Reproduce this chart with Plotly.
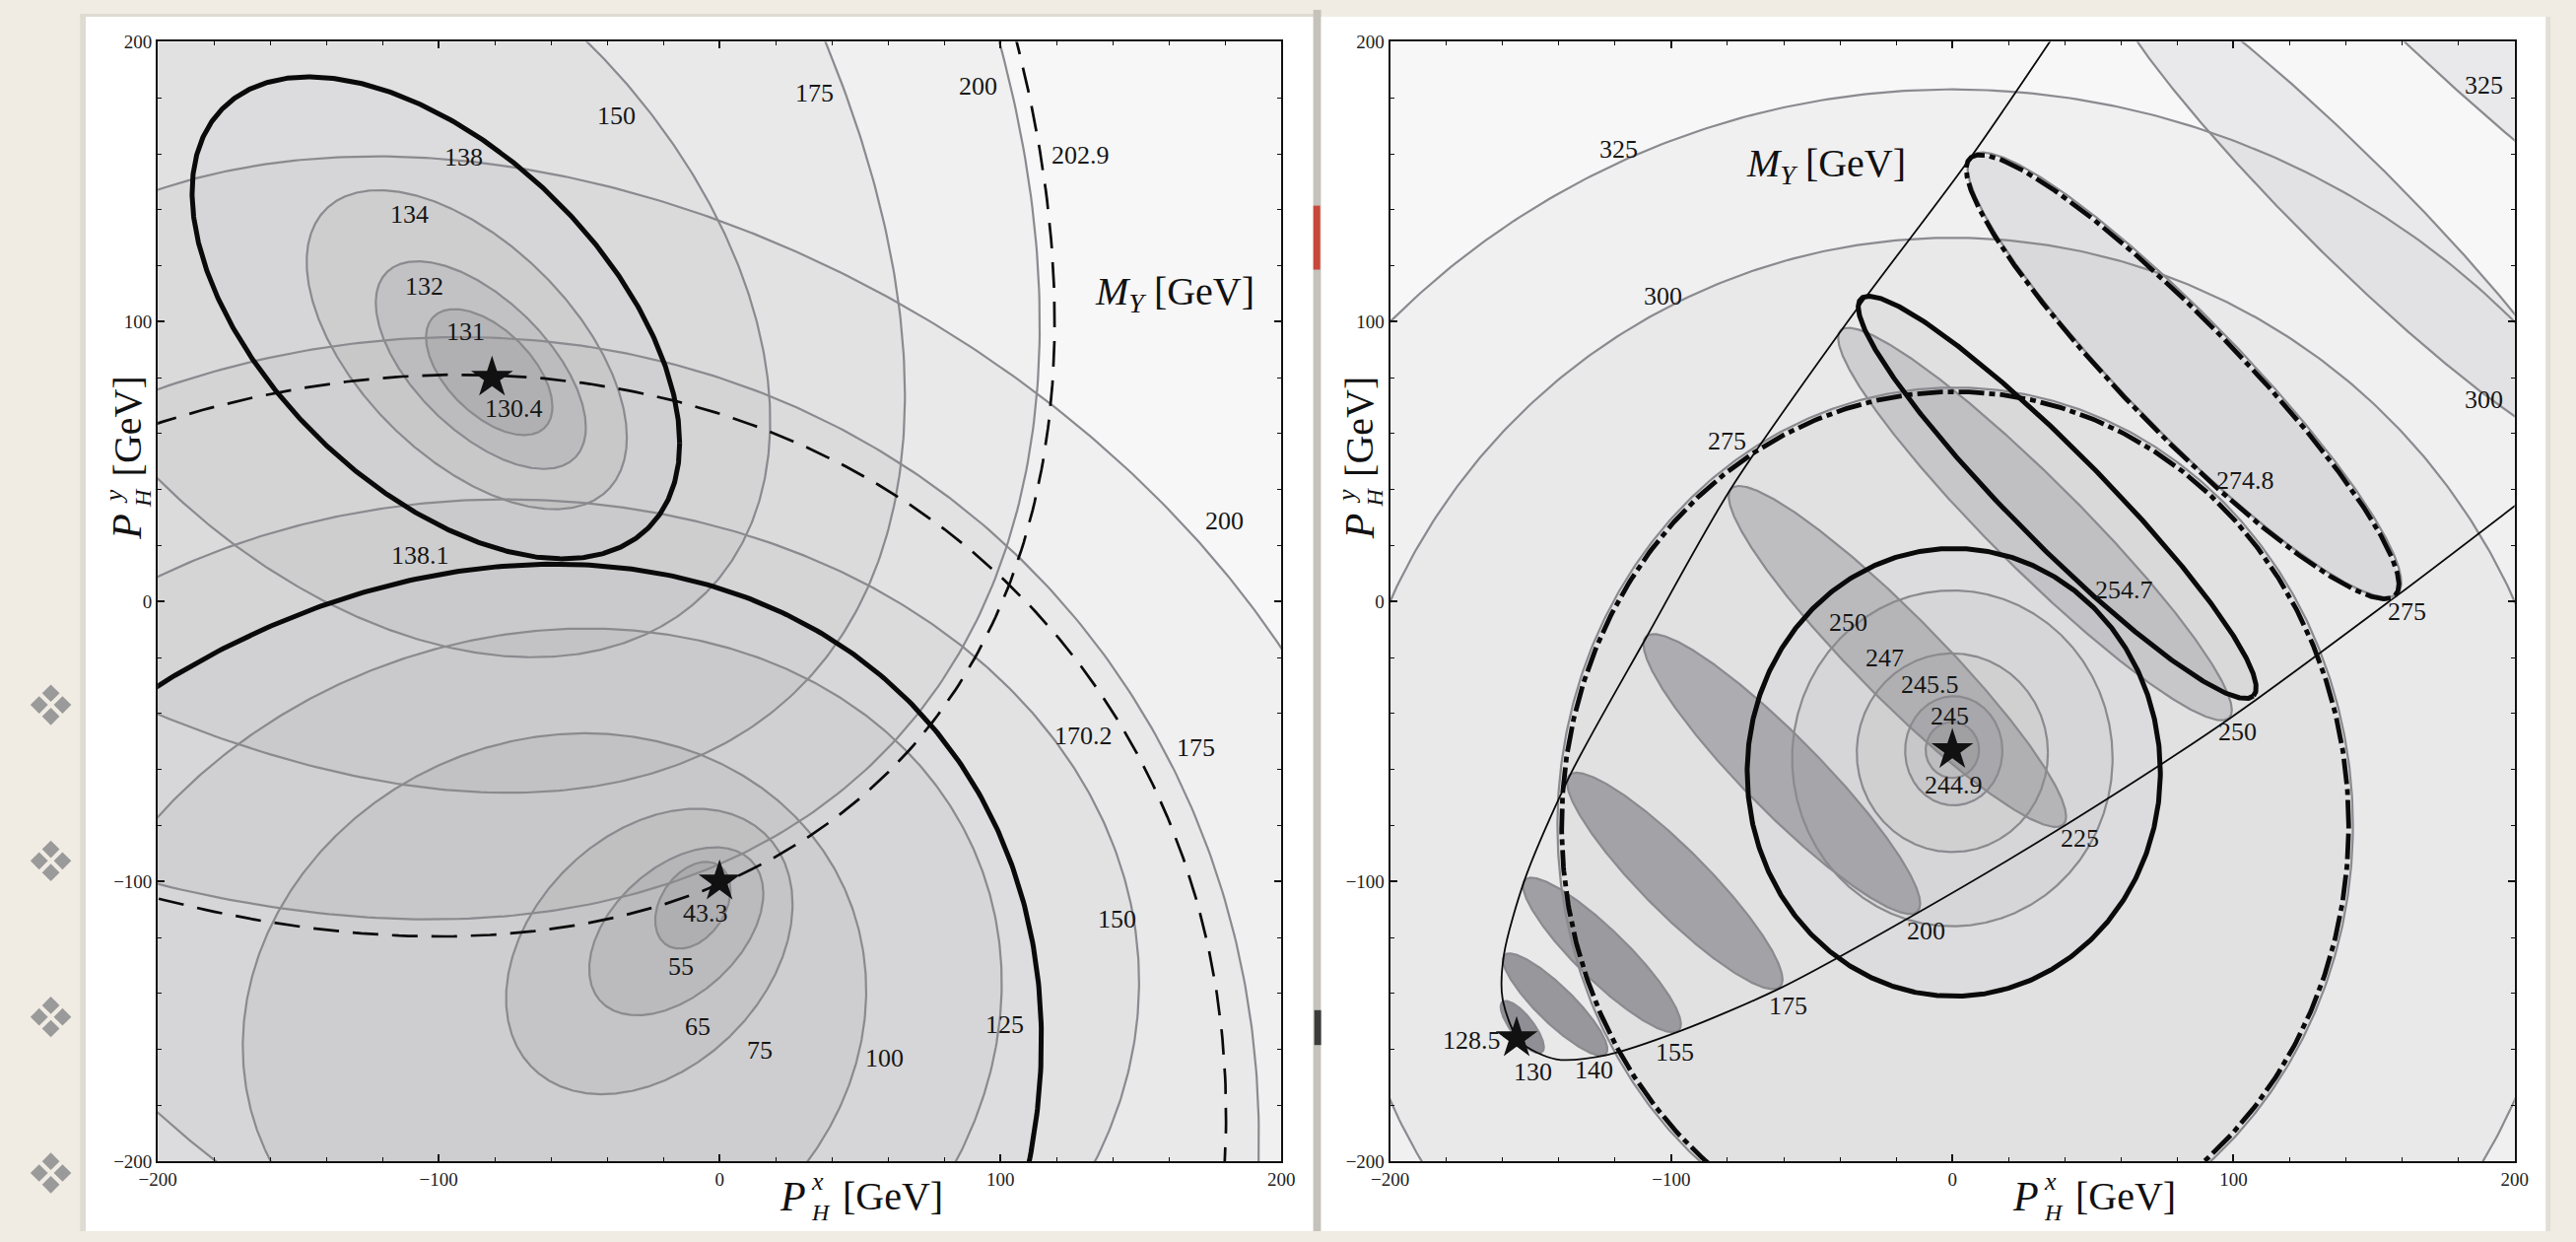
import numpy as np
import plotly.graph_objects as go

W, H = 2614, 1260
SERIF = "Liberation Serif, Times New Roman, serif"

# ---------------- left panel: M_Y contours of two solutions ----------------
# upper solution, closed inner contours: centre, half-width, half-height, correlation
UP_LEVELS = ["131", "132", "134", "138"]
UP_CX = [-82, -85, -90, -101]
UP_CY = [82, 84.5, 90, 101.4]
UP_HX = [22.5, 37.4, 57, 86.8]
UP_HY = [22.5, 37.1, 57, 86.1]
UP_RHO = [-0.55, -0.6, -0.55, -0.52]

# upper solution, outer contours sampled along their arcs
UP_ARCS = {
    "150": [(-46, 200), (-1, 133), (17, 86), (18, 60), (11, 23), (-12, -3), (-75, -17), (-145, 0), (-200, 45)],
    "175": [(38, 200), (62, 110), (67, 73), (62, 35), (50, -3), (10, -45), (-75, -68), (-150, -58), (-200, -40)],
    "200": [(100, 200), (112, 98), (114, 73), (110, 47), (100, 15), (94, -3), (-1, -94), (-101, -113.5), (-200, -101)],
    "202.9": [(106, 200), (118, 124), (119, 86), (114, 41), (104, 11), (100, -3), (62, -60), (0, -100), (-101, -120), (-196, -107)],
}

# lower solution, closed inner contours
LOW_LEVELS = ["55", "65", "75"]
LOW_CX = [-9.5, -15.4, -25]
LOW_CY = [-108.5, -117.8, -125]
LOW_HX = [13.4, 31, 51]
LOW_HY = [15.5, 30, 51]
LOW_RHO = [0.35, 0.45, 0.33]

# lower solution, outer contours sampled along their arcs
LOW_ARCS = {
    "100": [(-60, -47), (2, -63), (47, -102), (53, -145), (29, -201), (-162, -201), (-160, -130), (-131, -74)],
    "125": [(-200, -77), (-120, -22), (-50, -12), (32, -24.5), (70.5, -60), (94, -102), (101.6, -144.6), (84, -200)],
    "138.1": [(-200, -30), (-145.6, -3.3), (-49.5, 14), (17, -3), (76, -43), (106, -102), (110.4, -200)],
    "150": [(-200.7, 8.8), (-111, 34.5), (0, 27), (37.5, 15), (54, 0), (106, -32), (133, -60), (141, -113), (135.6, -200)],
    "170.2": [(-200, 64), (-81, 80), (0, 68), (63, 37), (102, 9), (113, -3), (140, -45), (165, -88), (180, -200)],
    "175": [(-200, 78), (-111, 89.5), (0, 82), (63, 54), (102, 22), (116, 0), (155, -50), (185, -120), (192, -200)],
    "200": [(-290, 60), (-240, 140), (-200.4, 149.2), (-142.6, 154.2), (-42, 137.9), (0, 135.7), (63, 111),
            (114, 78), (165.6, 35.7), (186, 0), (204, -20), (225, -120), (230, -220)],
}

LEFT_MIN_X = [-81, 0]
LEFT_MIN_Y = [80, -100]
LEFT_MIN_VAL = ["130.4", "43.3"]

# ---------------- right panel ----------------
# near-circular family around the central star
RC_LEVELS = ["245", "245.5", "247", "250", "254.7", "274.8", "275", "300", "325"]
RC_CX = [0, 0.5, 0, 0, 0.5, 1, 1, 0, 0]
RC_CY = [-53, -53.3, -54, -56, -61, -80, -80, -89, -99.5]
RC_HX = [9.5, 17.3, 34, 57, 73.5, 140, 141.5, 219, 282.5]
RC_HY = [10, 19.5, 35.5, 60, 80, 155, 156.5, 219, 282.5]

# narrow family: upper-left tip, lower-right tip, half-width
RD_LEVELS = ["130", "140", "155", "175", "200", "225", "250", "254.7", "274.8", "275", "300", "325"]
RD_TIP1 = [(-160, -143), (-159.3, -126.3), (-152, -99.4), (-136.2, -62), (-108.9, -12.5), (-78.6, 40.4),
           (-39.7, 96.9), (-32.5, 108.2), (6.3, 158.4), (6.8, 159.2), (54.2, 227.8), (93.9, 285.4)]
RD_TIP2 = [(-146, -161), (-123.3, -161.6), (-97.3, -153.1), (-61.3, -137.6), (-12.4, -110.7), (39.5, -79.6),
           (98.5, -41.5), (107.1, -33.7), (157.5, 2.2), (158.3, 2.8), (226.3, 55.7), (292, 107)]
RD_HW = [4, 6.5, 9, 11.5, 13.5, 15, 16, 16.5, 20, 20.3, 18, 19]

# kinematic boundary enclosing the narrow family
ENVELOPE = [(40, 208), (6, 158), (-38, 99), (-79, 40), (-109, -13), (-136, -62), (-152, -99), (-159.5, -126),
            (-160, -142), (-154, -157), (-141, -163.5), (-123, -162), (-97, -153.5), (-61, -138), (-12, -111),
            (40, -80), (99, -41.5), (158, 2), (205, 38)]

RIGHT_MIN_X = [0, -155]
RIGHT_MIN_Y = [-53, -156]
RIGHT_MIN_VAL = ["244.9", "128.5"]

# ---------------- label placement (data coordinates) ----------------
LEFT_LABEL_POS = [
    ("up", "150", -36.7, 173.5), ("up", "138", -91.2, 158.7), ("up", "134", -110.4, 138.2),
    ("up", "132", -105.3, 112.6), ("up", "131", -90.5, 96.6), ("up", "175", 33.7, 181.8),
    ("up", "200", 92.2, 184.3), ("up", "202.9", 128.5, 159.4),
    ("low", "138.1", -106.5, 16.5), ("low", "200", 179.7, 28.7), ("low", "170.2", 129.7, -47.8),
    ("low", "175", 169.6, -52.1), ("low", "150", 141.5, -113.6), ("low", "125", 101.6, -151),
    ("low", "100", 58.6, -163), ("low", "75", 14.2, -160.2), ("low", "65", -7.9, -151.7),
    ("low", "55", -13.9, -130.5),
]
LEFT_MIN_LABEL_POS = [(-73.2, 69.1), (-5, -111.4)]
RIGHT_LABEL_POS = [
    ("c", "325", -118.9, 161.7), ("c", "300", -103.1, 109.2), ("c", "275", -80, 57.4),
    ("c", "274.8", 104.3, 43.2), ("c", "254.7", 61.1, 4.3), ("c", "250", -36.9, -7.5),
    ("c", "247", -23.9, -20.3), ("c", "245.5", -8.1, -29.5), ("c", "245", -0.9, -40.8),
    ("d", "325", 189.2, 184.5), ("d", "300", 189.2, 72.2), ("d", "275", 161.9, -3.5),
    ("d", "250", 101.4, -46.4), ("d", "225", 45.2, -84.6), ("d", "200", -9.5, -117.8),
    ("d", "175", -58.5, -144.6), ("d", "155", -98.8, -160.9), ("d", "140", -127.6, -167.3),
    ("d", "130", -149.2, -168),
]
RIGHT_MIN_LABEL_POS = [(0.6, -65.5), (-170.8, -156.7)]

# ---------------- geometry helpers ----------------
T = np.linspace(0, 2 * np.pi, 721)


def ellipse_corr(cx, cy, hx, hy, rho):
    s = np.sqrt(1 - rho * rho)
    return cx + hx * np.cos(T), cy + hy * (rho * np.cos(T) + s * np.sin(T))


def ellipse_tips(p, q, hw):
    p, q = np.asarray(p, float), np.asarray(q, float)
    c = (p + q) / 2
    d = q - p
    a = np.linalg.norm(d) / 2
    u = d / (2 * a)
    nv = np.array([-u[1], u[0]])
    pts = c[:, None] + np.outer(u, a * np.cos(T)) + np.outer(nv, hw * np.sin(T))
    return pts[0], pts[1]


def ellipse_fit(points):
    """Direct least-squares ellipse through sampled contour points."""
    pts = np.asarray(points, float)
    s = 100.0
    x, y = pts[:, 0] / s, pts[:, 1] / s
    D1 = np.column_stack([x * x, x * y, y * y])
    D2 = np.column_stack([x, y, np.ones_like(x)])
    S1, S2, S3 = D1.T @ D1, D1.T @ D2, D2.T @ D2
    Tm = -np.linalg.solve(S3, S2.T)
    M = S1 + S2 @ Tm
    M = np.array([M[2] / 2.0, -M[1], M[0] / 2.0])
    w, v = np.linalg.eig(M)
    v = v.real
    cond = 4 * v[0] * v[2] - v[1] ** 2
    idx = np.where(cond > 0)[0]
    if len(idx) == 0:
        return pts[:, 0], pts[:, 1]
    a1 = v[:, idx[0]]
    A, B, C = a1
    D, E, F = Tm @ a1
    den = 4 * A * C - B * B
    x0 = (B * E - 2 * C * D) / den
    y0 = (B * D - 2 * A * E) / den
    F0 = A * x0 * x0 + B * x0 * y0 + C * y0 * y0 + D * x0 + E * y0 + F
    lam, vec = np.linalg.eigh(np.array([[A, B / 2], [B / 2, C]]))
    r = np.sqrt(np.abs(F0 / lam))
    e = np.array([x0, y0])[:, None] + vec @ np.vstack([r[0] * np.cos(T), r[1] * np.sin(T)])
    return e[0] * s, e[1] * s


# ---------------- styles ----------------
GRAY = "#8a8a8f"
STY_GRAY = dict(color=GRAY, width=2.2)
STY_THICK = dict(color="#0a0a0a", width=5)
STY_DASH = dict(color="#0a0a0a", width=2.7, dash="26px,14px")
STY_DASHDOT = dict(color="#0a0a0a", width=4.8, dash="26px,5px,6px,5px")

fig = go.Figure()
fills, lines = [], []


def collect(x, y, xa, ya, alpha, style):
    if alpha > 0:
        fills.append(go.Scatter(x=x, y=y, xaxis=xa, yaxis=ya, mode="lines", fill="toself",
                                fillcolor="rgba(20,20,30,%.3f)" % alpha, line=dict(width=0),
                                hoverinfo="skip", showlegend=False))
    lines.append(go.Scatter(x=x, y=y, xaxis=xa, yaxis=ya, mode="lines", line=style,
                            hoverinfo="skip", showlegend=False))


def left_style(fam, lev):
    if (fam, lev) in (("up", "138"), ("low", "138.1")):
        return STY_THICK, 0.02
    if (fam, lev) in (("up", "202.9"), ("low", "170.2")):
        return STY_DASH, 0.0
    return STY_GRAY, None


# left panel curves
up_alpha = {"131": 0.07, "132": 0.055, "134": 0.045, "150": 0.035, "175": 0.03, "200": 0.03}
for lev, cx, cy, hx, hy, rho in zip(UP_LEVELS, UP_CX, UP_CY, UP_HX, UP_HY, UP_RHO):
    sty, a = left_style("up", lev)
    x, y = ellipse_corr(cx, cy, hx, hy, rho)
    collect(x, y, "x", "y", a if a is not None else up_alpha[lev], sty)
for lev, pts in UP_ARCS.items():
    sty, a = left_style("up", lev)
    x, y = ellipse_fit(pts)
    collect(x, y, "x", "y", a if a is not None else up_alpha[lev], sty)

low_alpha = {"55": 0.07, "65": 0.055, "75": 0.045, "100": 0.04, "125": 0.035, "150": 0.03,
             "175": 0.03, "200": 0.03}
for lev, cx, cy, hx, hy, rho in zip(LOW_LEVELS, LOW_CX, LOW_CY, LOW_HX, LOW_HY, LOW_RHO):
    sty, a = left_style("low", lev)
    x, y = ellipse_corr(cx, cy, hx, hy, rho)
    collect(x, y, "x", "y", a if a is not None else low_alpha[lev], sty)
for lev, pts in LOW_ARCS.items():
    sty, a = left_style("low", lev)
    x, y = ellipse_fit(pts)
    collect(x, y, "x", "y", a if a is not None else low_alpha[lev], sty)

# right panel curves
rc_alpha = {"245": 0.05, "245.5": 0.04, "247": 0.035, "250": 0.03, "254.7": 0.02, "274.8": 0.0,
            "275": 0.035, "300": 0.03, "325": 0.03}
for lev, cx, cy, hx, hy in zip(RC_LEVELS, RC_CX, RC_CY, RC_HX, RC_HY):
    sty = STY_THICK if lev == "254.7" else STY_DASHDOT if lev == "274.8" else STY_GRAY
    x, y = ellipse_corr(cx, cy, hx, hy, 0.0)
    collect(x, y, "x2", "y2", rc_alpha[lev], sty)

rd_alpha = {"130": 0.42, "140": 0.38, "155": 0.34, "175": 0.3, "200": 0.25, "225": 0.17, "250": 0.12,
            "254.7": 0.04, "274.8": 0.07, "275": 0.0, "300": 0.06, "325": 0.06}
for lev, p, q, hw in zip(RD_LEVELS, RD_TIP1, RD_TIP2, RD_HW):
    sty = STY_THICK if lev == "254.7" else STY_DASHDOT if lev == "274.8" else STY_GRAY
    x, y = ellipse_tips(p, q, hw)
    collect(x, y, "x2", "y2", rd_alpha[lev], sty)

for tr in fills:
    fig.add_trace(tr)
# gray lines first, then the emphasised ones on top
for tr in sorted(lines, key=lambda t: 0 if t.line.color == GRAY else 1):
    fig.add_trace(tr)

ex, ey = zip(*ENVELOPE)
fig.add_trace(go.Scatter(x=ex, y=ey, xaxis="x2", yaxis="y2", mode="lines",
                         line=dict(color="#0a0a0a", width=1.8, shape="spline", smoothing=0.8),
                         hoverinfo="skip", showlegend=False))

# stars at the minima
fig.add_trace(go.Scatter(x=LEFT_MIN_X, y=LEFT_MIN_Y, xaxis="x", yaxis="y", mode="markers",
                         marker=dict(symbol="star", size=32, color="#111"), hoverinfo="skip", showlegend=False))
fig.add_trace(go.Scatter(x=RIGHT_MIN_X, y=RIGHT_MIN_Y, xaxis="x2", yaxis="y2", mode="markers",
                         marker=dict(symbol="star", size=32, color="#111"), hoverinfo="skip", showlegend=False))

annotations = []
LAB_FONT = dict(family=SERIF, size=26, color="#161616")

left_keys = {("up", l) for l in UP_LEVELS + list(UP_ARCS)} | {("low", l) for l in LOW_LEVELS + list(LOW_ARCS)}
for fam, lev, lx, ly in LEFT_LABEL_POS:
    if (fam, lev) in left_keys:
        annotations.append(dict(text=lev, x=lx, y=ly, xref="x", yref="y", showarrow=False, font=LAB_FONT))
for val, (lx, ly) in zip(LEFT_MIN_VAL, LEFT_MIN_LABEL_POS):
    annotations.append(dict(text=val, x=lx, y=ly, xref="x", yref="y", showarrow=False, font=LAB_FONT))

right_keys = {("c", l) for l in RC_LEVELS} | {("d", l) for l in RD_LEVELS}
for fam, lev, lx, ly in RIGHT_LABEL_POS:
    if (fam, lev) in right_keys:
        annotations.append(dict(text=lev, x=lx, y=ly, xref="x2", yref="y2", showarrow=False, font=LAB_FONT))
for val, (lx, ly) in zip(RIGHT_MIN_VAL, RIGHT_MIN_LABEL_POS):
    annotations.append(dict(text=val, x=lx, y=ly, xref="x2", yref="y2", showarrow=False, font=LAB_FONT))


def ptext(text, px, py, size, italic=False, angle=0, xanchor="center"):
    annotations.append(dict(text=("<i>%s</i>" % text) if italic else text, x=px / W, y=1 - py / H,
                            xref="paper", yref="paper", showarrow=False, textangle=angle,
                            xanchor=xanchor, yanchor="middle",
                            font=dict(family=SERIF, size=size, color="#111")))


# axis titles P_H^x / P_H^y and the M_Y tags
for dx in (0, 1267):
    ptext("P", 795 + dx, 1224, 42, italic=True)
    ptext("x", 812 + dx, 1209, 26, italic=True, xanchor="left")
    ptext("H", 812 + dx, 1241, 24, italic=True, xanchor="left")
    ptext("[GeV]", 898 + dx, 1224, 40)
    ptext("P", 111 + dx, 533, 42, italic=True, angle=-90)
    ptext("y", 97 + dx, 502, 26, italic=True, angle=-90)
    ptext("H", 126 + dx, 503, 24, italic=True, angle=-90)
    ptext("[GeV]", 111 + dx, 430, 40, angle=-90)
ptext("<i>M</i><sub><i>Y</i></sub> [GeV]", 1187, 293, 40)
ptext("<i>M</i><sub><i>Y</i></sub> [GeV]", 1857, 161, 40)

# ---------------- slide furniture ----------------
shapes = []


def rect(x0, y0, x1, y1, color, line=None):
    shapes.append(dict(type="rect", xref="paper", yref="paper", x0=x0 / W, x1=x1 / W,
                       y0=1 - y1 / H, y1=1 - y0 / H, fillcolor=color, layer="below",
                       line=line or dict(width=0)))


rect(62, 4, 1332, 1260, "rgba(0,0,0,0.07)")
rect(68, 7, 1330, 1260, "#ffffff")
rect(1330, 0, 1338, 1260, "#c4c2bb")
rect(1338, 7, 2597, 1260, "#ffffff")
rect(2597, 7, 2602, 1260, "rgba(0,0,0,0.06)")
rect(1330, 202, 1337, 268, "#c9473b")
rect(1331, 1032, 1338, 1068, "#3c3c3c")
rect(142, 33, 1297, 1188, "#f7f7f8")
rect(1409, 33, 2565, 1188, "#f7f7f8")

# bullet glyphs on the slide margin
for by in (717, 878, 1039, 1200):
    for ox, oy in ((0, -12), (-12, 0), (12, 0), (0, 12)):
        cx, cy = 32 + ox, by + oy
        r = 9
        path = "M %f %f L %f %f L %f %f L %f %f Z" % (
            cx / W, 1 - (cy - r) / H, (cx + r) / W, 1 - cy / H, cx / W, 1 - (cy + r) / H, (cx - r) / W, 1 - cy / H)
        shapes.append(dict(type="path", path=path, xref="paper", yref="paper",
                           fillcolor="#9a9a9a", line=dict(width=0), layer="below"))

axis_common = dict(
    range=[-200, 200], showgrid=False, zeroline=False, showline=True, linecolor="#111", linewidth=2,
    mirror="allticks", ticks="inside", ticklen=7, tickwidth=1.6, tickcolor="#111",
    tickmode="linear", tick0=-200, dtick=100,
    minor=dict(ticks="inside", ticklen=4, tickwidth=1.3, tickcolor="#111", tick0=-200, dtick=20),
    tickfont=dict(family=SERIF, size=19, color="#222"), fixedrange=True,
)
ydom = [1 - 1188 / H, 1 - 33 / H]
fig.update_layout(
    width=W, height=H, margin=dict(l=0, r=0, t=0, b=0),
    paper_bgcolor="#f0ece3", plot_bgcolor="rgba(0,0,0,0)", showlegend=False,
    xaxis=dict(axis_common, domain=[142 / W, 1297 / W], anchor="y"),
    yaxis=dict(axis_common, domain=ydom, anchor="x"),
    xaxis2=dict(axis_common, domain=[1409 / W, 2565 / W], anchor="y2"),
    yaxis2=dict(axis_common, domain=ydom, anchor="x2"),
    annotations=annotations, shapes=shapes,
)

fig.write_html("out.html")
